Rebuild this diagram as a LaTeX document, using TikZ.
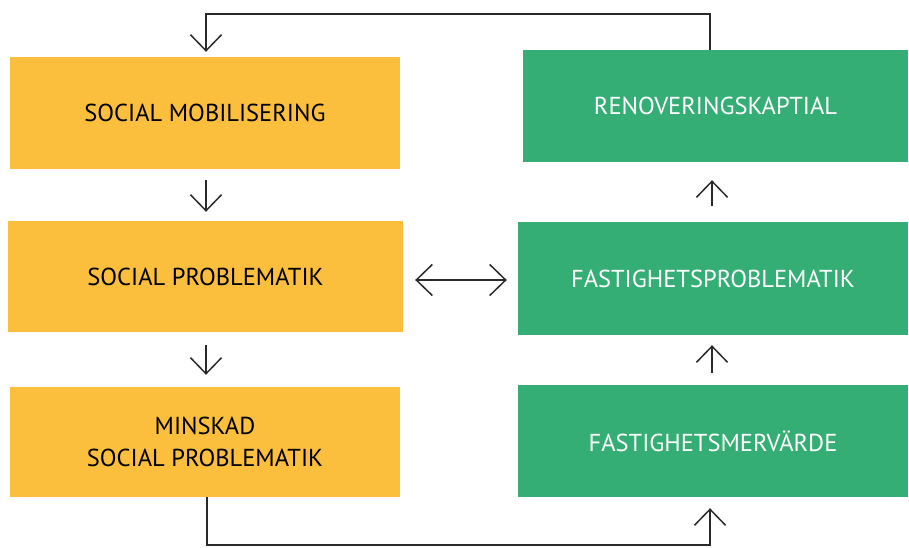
\documentclass[tikz,border=0pt]{standalone}
\usepackage{fontspec}
\setmainfont{PT Sans}
\usetikzlibrary{arrows.meta}
\definecolor{orng}{HTML}{FCBE3D}
\definecolor{grn}{HTML}{35AE75}
\definecolor{ink}{HTML}{2A2A2A}
\tikzset{
  box/.style={rectangle, inner sep=0pt, align=center, font=\fontsize{24.5}{32}\selectfont},
  obox/.style={box, fill=orng, text=black},
  gbox/.style={box, fill=grn, text=white},
  barb/.style={Straight Barb[length=16pt,width=31pt,line width=1.5pt]},
  arr/.style={draw=ink, line width=1.4pt, -{Straight Barb[length=16pt,width=31pt,line width=1.5pt]}},
  darr/.style={draw=ink, line width=1.4pt, {Straight Barb[length=16pt,width=31pt,line width=1.5pt]}-{Straight Barb[length=16pt,width=31pt,line width=1.5pt]}}
}
\begin{document}
\begin{tikzpicture}[x=1pt,y=-1pt]
\useasboundingbox (0,0) rectangle (909,548);
\node[obox, minimum width=390pt, minimum height=112pt] (b1) at (205,113) {SOCIAL MOBILISERING};
\node[obox, minimum width=395pt, minimum height=111pt] (b2) at (205.5,276.5) {SOCIAL PROBLEMATIK};
\node[obox, minimum width=390pt, minimum height=110pt] (b3) at (205,442) {MINSKAD\\SOCIAL PROBLEMATIK};
\node[gbox, minimum width=385pt, minimum height=112pt] (r1) at (715.5,106) {RENOVERINGSKAPTIAL};
\node[gbox, minimum width=390pt, minimum height=113pt] (r2) at (713,278.5) {FASTIGHETSPROBLEMATIK};
\node[gbox, minimum width=390pt, minimum height=112pt] (r3) at (713,441) {FASTIGHETSMERVÄRDE};
% top loop
\coordinate (t1) at ([xshift=-5.5pt]r1.north);
\coordinate (t2) at (206,14);
\draw[arr, shorten >=5pt] (t1) |- (t2) -- ([xshift=1pt]b1.north);
% bottom loop
\coordinate (u1) at ([xshift=2pt]b3.south);
\coordinate (u2) at (710,545);
\draw[arr, shorten >=11pt] (u1) |- (u2) -- ([xshift=-3pt]r3.south);
% middle arrows
\draw[arr, shorten <=11pt, shorten >=9pt] ([xshift=1pt]b1.south) -- ([xshift=0.5pt]b2.north);
\draw[arr, shorten <=13pt, shorten >=12pt] ([xshift=0.5pt]b2.south) -- ([xshift=1pt]b3.north);
\draw[arr, shorten <=16pt, shorten >=18pt] ([xshift=-1pt]r2.north) -- ([xshift=-3.5pt]r1.south);
\draw[arr, shorten <=12pt, shorten >=10pt] ([xshift=-1pt]r3.north) -- ([xshift=-1pt]r2.south);
\draw[darr, shorten <=12pt, shorten >=11pt] (b2.east |- 0,280) -- (r2.west |- 0,280);
\end{tikzpicture}
\end{document}
